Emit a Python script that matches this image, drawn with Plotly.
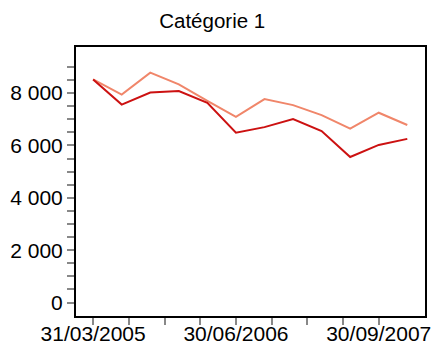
import plotly.graph_objects as go

dates = ["31/03/2005", "30/06/2005", "30/09/2005", "31/12/2005",
         "31/03/2006", "30/06/2006", "30/09/2006", "31/12/2006",
         "31/03/2007", "30/06/2007", "30/09/2007", "31/12/2007"]
serie_foncee = [8520, 7560, 8020, 8080, 7630, 6490, 6700, 7010, 6550, 5560, 6020, 6250]
serie_claire = [8520, 7940, 8780, 8330, 7700, 7090, 7770, 7540, 7160, 6640, 7250, 6780]
title_text = "Catégorie 1"

x_idx = list(range(len(dates)))

# x ticks every 1.25 categories, labels every 5 categories
x_tickvals = [i * 1.25 for i in range(9)]
x_ticktext = [dates[int(v)] if abs(v - round(v)) < 1e-9 and int(v) % 5 == 0 else "" for v in x_tickvals]

y_tickvals = list(range(0, 9001, 500))
y_ticktext = [f"{v:,}".replace(",", " ") if v % 2000 == 0 else "" for v in y_tickvals]

fig = go.Figure()
fig.add_trace(go.Scatter(x=x_idx, y=serie_claire, mode="lines",
                         line=dict(color="#f0866a", width=2), showlegend=False))
fig.add_trace(go.Scatter(x=x_idx, y=serie_foncee, mode="lines",
                         line=dict(color="#cc1111", width=2), showlegend=False))

fig.update_layout(
    width=434, height=348,
    margin=dict(l=76, r=9, t=47, b=32, autoexpand=False),
    paper_bgcolor="white", plot_bgcolor="white",
    font=dict(family="Liberation Sans, Arial, sans-serif", size=21, color="black"),
    title=dict(text=title_text, x=0.489, xref="container", xanchor="center",
               y=0.94, yref="container", yanchor="middle",
               font=dict(size=20.5, color="black")),
    showlegend=False,
)
fig.update_xaxes(range=[-0.6, 11.62], tickmode="array", tickvals=x_tickvals, ticktext=x_ticktext,
                 ticks="outside", ticklen=7, tickwidth=1.5, tickcolor="#888888",
                 ticklabelstandoff=-9,
                 showline=True, linecolor="black", linewidth=2, mirror=True, automargin=False,
                 showgrid=False, zeroline=False, tickfont=dict(size=21))
fig.update_yaxes(range=[-515, 9760], tickmode="array", tickvals=y_tickvals, ticktext=y_ticktext,
                 ticks="outside", ticklen=7, tickwidth=1.5, tickcolor="#888888",
                 showline=True, linecolor="black", linewidth=2, mirror=True, automargin=False,
                 showgrid=False, zeroline=False, tickfont=dict(size=21))

fig.write_html("out.html", config={"displayModeBar": False},
               post_script="document.body.style.margin='0';document.body.style.padding='0';")
